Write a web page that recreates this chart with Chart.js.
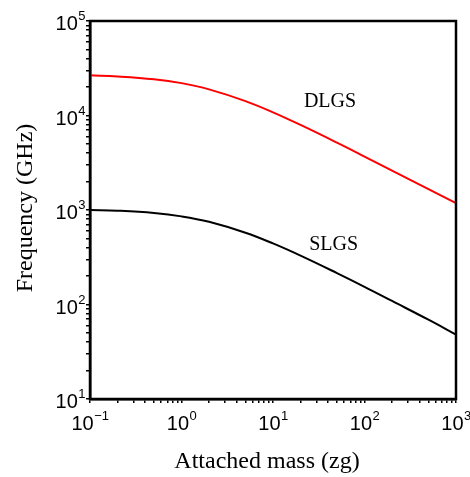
<!DOCTYPE html>
<html>
<head>
<meta charset="utf-8">
<script src="https://cdn.jsdelivr.net/npm/chart.js@4"></script>
<style>
  html, body { margin: 0; padding: 0; background: #fff; }
  #chart { display: block; }
</style>
</head>
<body>
<canvas id="chart" width="470" height="477"></canvas>
<script>
// attached mass (zg) and the two resonant frequency curves (GHz)
const mass = [0.1, 0.2, 0.5, 1, 2, 5, 10, 20, 50, 100, 200, 500, 1000];
const dlgs = [26600, 25900, 24200, 22000, 18900, 14200, 10800, 7940, 5160, 3680, 2610, 1660, 1180];
const slgs = [1003, 983, 929, 856, 750, 575, 443, 329, 215, 154, 109, 69, 48];
const xExponents = [-1, 0, 1, 2, 3];
const yExponents = [1, 2, 3, 4, 5];
const curveNames = [
  { text: "DLGS", x: 42, y: 13900 },
  { text: "SLGS", x: 46, y: 430 }
];

const sansBase = "20px 'Liberation Sans', Arial, sans-serif";
const sansSup = "13px 'Liberation Sans', Arial, sans-serif";
const serif = "'Liberation Serif', 'Times New Roman', serif";

function decadeTicks(lo, hi) {
  const out = [];
  for (let e = lo; e < hi; e++) {
    for (let k = 1; k <= 9; k++) out.push({ value: k * Math.pow(10, e), major: k === 1 });
  }
  out.push({ value: Math.pow(10, hi), major: true });
  return out;
}

// draws "10" with a raised exponent; align: "center" on x, or "right" edge at x
function drawPower(ctx, e, x, y, align) {
  const exp = String(e).replace("-", "\u2212");
  ctx.font = sansBase;
  const wb = ctx.measureText("10").width;
  ctx.font = sansSup;
  const we = ctx.measureText(exp).width;
  const start = align === "center" ? x - (wb + we) / 2 : x - wb - we;
  ctx.textAlign = "left";
  ctx.textBaseline = "alphabetic";
  ctx.font = sansBase;
  ctx.fillText("10", start, y);
  ctx.font = sansSup;
  ctx.fillText(exp, start + wb + 0.5, y - 10);
}

const decor = {
  id: "decor",
  afterDraw(chart) {
    const { ctx, chartArea: a, scales } = chart;
    ctx.save();
    ctx.strokeStyle = "#000";
    ctx.lineWidth = 2.5;
    ctx.strokeRect(a.left, a.top, a.right - a.left, a.bottom - a.top);
    ctx.fillStyle = "#000";

    xExponents.forEach(e => drawPower(ctx, e, scales.x.getPixelForValue(Math.pow(10, e)), a.bottom + 31, "center"));
    yExponents.forEach(e => drawPower(ctx, e, a.left - 5, scales.y.getPixelForValue(Math.pow(10, e)) + 9, "right"));

    ctx.font = "24px " + serif;
    ctx.textAlign = "center";
    ctx.textBaseline = "alphabetic";
    ctx.fillText("Attached mass (zg)", (a.left + a.right) / 2 - 6, 468);
    ctx.save();
    ctx.translate(32, 208);
    ctx.rotate(-Math.PI / 2);
    ctx.fillText("Frequency (GHz)", 0, 0);
    ctx.restore();

    ctx.font = "20px " + serif;
    ctx.textBaseline = "middle";
    curveNames.forEach(n => ctx.fillText(n.text, scales.x.getPixelForValue(n.x), scales.y.getPixelForValue(n.y)));
    ctx.restore();
  }
};

new Chart(document.getElementById("chart"), {
  type: "line",
  data: {
    datasets: [
      { label: "DLGS", data: mass.map((m, i) => ({ x: m, y: dlgs[i] })), borderColor: "#ff0000", borderWidth: 2, pointRadius: 0, tension: 0.4, fill: false },
      { label: "SLGS", data: mass.map((m, i) => ({ x: m, y: slgs[i] })), borderColor: "#000000", borderWidth: 2, pointRadius: 0, tension: 0.4, fill: false }
    ]
  },
  options: {
    responsive: false,
    animation: false,
    layout: { padding: { left: 0, right: 14, top: 21, bottom: 0 } },
    plugins: { legend: { display: false }, tooltip: { enabled: false } },
    scales: {
      x: {
        type: "logarithmic",
        min: 0.1,
        max: 1000,
        afterBuildTicks: s => { s.ticks = decadeTicks(-1, 3); },
        afterFit: s => { s.height = 78; },
        border: { color: "#000", width: 2.5 },
        grid: { drawOnChartArea: false, color: "#000", tickLength: 4, lineWidth: 1.5 },
        ticks: { display: false, autoSkip: false }
      },
      y: {
        type: "logarithmic",
        min: 10,
        max: 100000,
        afterBuildTicks: s => { s.ticks = decadeTicks(1, 5); },
        afterFit: s => { s.width = 90; },
        border: { color: "#000", width: 2.5 },
        grid: { drawOnChartArea: false, color: "#000", tickLength: 4, lineWidth: 1.5 },
        ticks: { display: false, autoSkip: false }
      }
    }
  },
  plugins: [decor]
});
</script>
</body>
</html>
